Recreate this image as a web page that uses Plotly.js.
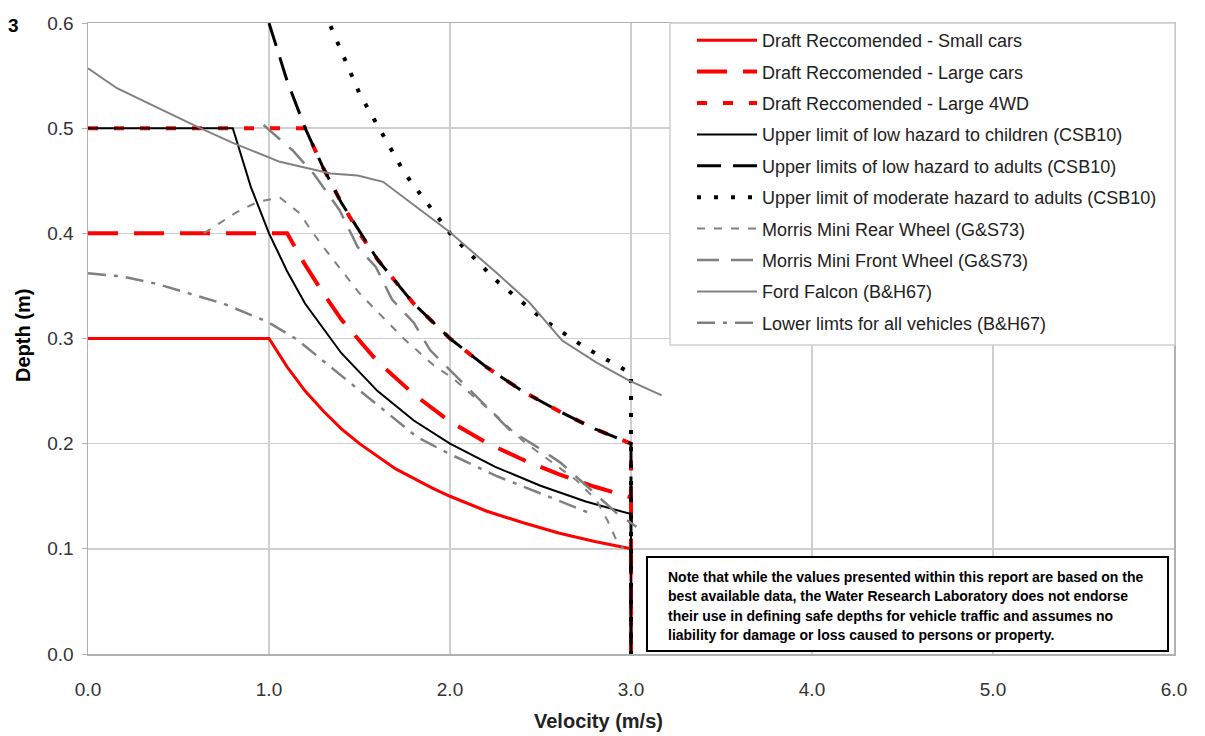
<!DOCTYPE html>
<html>
<head>
<meta charset="utf-8">
<script src="https://cdn.plot.ly/plotly-3.0.1.min.js"></script>
<style>html,body{margin:0;padding:0;background:#fff;}#chart{width:1205px;height:736px;}</style>
</head>
<body>
<div id="chart"></div>
<script>
// ---- Data ----
var smallCarsX = [0.0, 1.0, 1.1, 1.2, 1.3, 1.4, 1.5, 1.6, 1.7, 1.8, 1.9, 2.0, 2.2, 2.4, 2.6, 2.8, 3.0, 3.0];
var smallCarsY = [0.3, 0.3, 0.273, 0.25, 0.231, 0.214, 0.2, 0.188, 0.176, 0.167, 0.158, 0.15, 0.136, 0.125, 0.115, 0.107, 0.1, 0.0];

var largeCarsX = [0.0, 1.1, 1.2, 1.3, 1.4, 1.6, 1.8, 2.0, 2.2, 2.4, 2.6, 2.8, 3.0, 3.0];
var largeCarsY = [0.4, 0.4, 0.37, 0.343, 0.318, 0.278, 0.247, 0.221, 0.201, 0.185, 0.171, 0.159, 0.149, 0.0];

var large4wdX = [0.0, 1.2, 1.3, 1.4, 1.5, 1.6, 1.8, 2.0, 2.2, 2.4, 2.6, 2.8, 3.0, 3.0];
var large4wdY = [0.5, 0.5, 0.462, 0.429, 0.4, 0.375, 0.333, 0.3, 0.273, 0.25, 0.231, 0.214, 0.2, 0.0];

var childrenX = [0.0, 0.8, 0.9, 1.0, 1.1, 1.2, 1.4, 1.6, 1.8, 2.0, 2.25, 2.5, 2.75, 3.0, 3.0];
var childrenY = [0.5, 0.5, 0.444, 0.4, 0.364, 0.333, 0.286, 0.25, 0.222, 0.2, 0.178, 0.16, 0.145, 0.133, 0.0];

var adultsLowX = [1.0, 1.1, 1.2, 1.3, 1.4, 1.6, 1.8, 2.0, 2.2, 2.4, 2.6, 2.8, 3.0, 3.0];
var adultsLowY = [0.6, 0.545, 0.5, 0.462, 0.429, 0.375, 0.333, 0.3, 0.273, 0.25, 0.231, 0.214, 0.2, 0.0];

var adultsModX = [1.34, 1.5, 1.75, 2.0, 2.25, 2.5, 2.75, 3.0, 3.0];
var adultsModY = [0.597, 0.533, 0.457, 0.4, 0.356, 0.32, 0.291, 0.267, 0.0];

var miniRearX = [0.64, 0.73, 0.82, 0.94, 1.06, 1.17, 1.24, 1.3, 1.37, 1.5, 1.63, 1.75, 1.92, 2.01, 2.11, 2.26, 2.4, 2.55, 2.7, 2.81, 2.87, 2.92, 2.96];
var miniRearY = [0.40, 0.41, 0.42, 0.43, 0.434, 0.419, 0.401, 0.387, 0.372, 0.343, 0.32, 0.299, 0.273, 0.263, 0.248, 0.226, 0.203, 0.184, 0.165, 0.146, 0.127, 0.108, 0.1];

var miniFrontX = [0.97, 1.13, 1.25, 1.39, 1.49, 1.59, 1.68, 1.8, 1.89, 2.04, 2.18, 2.33, 2.48, 2.61, 2.76, 2.92, 3.03];
var miniFrontY = [0.503, 0.479, 0.456, 0.422, 0.387, 0.368, 0.337, 0.315, 0.289, 0.263, 0.239, 0.213, 0.197, 0.182, 0.159, 0.134, 0.121];

var falconX = [0.0, 0.16, 0.415, 0.62, 0.8, 1.06, 1.34, 1.49, 1.63, 2.0, 2.26, 2.44, 2.62, 2.81, 2.99, 3.17];
var falconY = [0.557, 0.538, 0.517, 0.5, 0.486, 0.468, 0.457, 0.455, 0.449, 0.401, 0.362, 0.334, 0.298, 0.277, 0.26, 0.246];

var lowerX = [0.0, 0.19, 0.38, 0.56, 0.75, 0.99, 1.155, 1.34, 1.56, 1.82, 2.0, 2.26, 2.54, 2.77];
var lowerY = [0.362, 0.359, 0.352, 0.343, 0.333, 0.316, 0.299, 0.273, 0.242, 0.206, 0.19, 0.169, 0.15, 0.134];

var xTickVals = [0, 1, 2, 3, 4, 5, 6];
var xTickText = ["0.0", "1.0", "2.0", "3.0", "4.0", "5.0", "6.0"];
var yTickVals = [0, 0.1, 0.2, 0.3, 0.4, 0.5, 0.6];
var yTickText = ["0.0", "0.1", "0.2", "0.3", "0.4", "0.5", "0.6"];

var xTitle = "Velocity (m/s)";
var yTitle = "Depth (m)";

var noteLines = [
  "Note that while the values presented within this report are based on the",
  "best available data, the Water Research Laboratory does not endorse",
  "their use in defining safe depths for vehicle traffic and assumes no",
  "liability for damage or loss caused to persons or property."
];

// ---- Traces ----
var GRAY = "#808080";
function tr(name, x, y, color, width, dash, grp) {
  return {type: "scatter", mode: "lines", name: name, x: x, y: y,
    line: {color: color, width: width, dash: dash}, legendgroup: grp, hoverinfo: "skip"};
}
var traces = [
  tr("Draft Reccomended - Small cars", smallCarsX, smallCarsY, "#ff0000", 3, "solid", "g1"),
  tr("Draft Reccomended - Large cars", largeCarsX, largeCarsY, "#ff0000", 4, "30px,16px", "g2"),
  tr("Draft Reccomended - Large 4WD", large4wdX, large4wdY, "#ff0000", 4, "10px,16px", "g3"),
  tr("Upper limit of low hazard to children (CSB10)", childrenX, childrenY, "#000000", 2, "solid", "g4"),
  tr("Upper limits of low hazard to adults (CSB10)", adultsLowX, adultsLowY, "#000000", 3, "24px,12px", "g5"),
  tr("Upper limit of moderate hazard to adults (CSB10)", adultsModX, adultsModY, "#000000", 4, "4px,13px", "g6"),
  tr("Morris Mini Rear Wheel (G&S73)", miniRearX, miniRearY, GRAY, 2, "8px,9px", "g7"),
  tr("Morris Mini Front Wheel (G&S73)", miniFrontX, miniFrontY, GRAY, 2.5, "22px,12px", "g8"),
  tr("Ford Falcon (B&H67)", falconX, falconY, GRAY, 2, "solid", "g9"),
  tr("Lower limts for all vehicles (B&H67)", lowerX, lowerY, GRAY, 2.5, "18px,8px,4px,8px", "g10")
];

// ---- Layout ----
var L = 88, R = 1174, T = 23, B = 654;
function px(xp) { return (xp - L) / (R - L); }
function py(yp) { return (B - yp) / (B - T); }

var FONT = "Liberation Sans, Arial, sans-serif";
var annotations = [];
var noteY = [577, 596, 616, 635];
for (var i = 0; i < noteLines.length; i++) {
  annotations.push({xref: "paper", yref: "paper", x: px(666), y: py(noteY[i]),
    xanchor: "left", yanchor: "middle", showarrow: false, text: "<b>" + noteLines[i] + "</b>",
    font: {family: FONT, size: 14, color: "#000"}});
}
annotations.push({xref: "paper", yref: "paper", x: px(6), y: py(25), xanchor: "left", yanchor: "middle",
  showarrow: false, text: "<b>3</b>", font: {family: FONT, size: 19, color: "#000"}});
annotations.push({xref: "paper", yref: "paper", x: px(598), y: py(721), xanchor: "center", yanchor: "middle",
  showarrow: false, text: "<b>" + xTitle + "</b>", font: {family: FONT, size: 20, color: "#222"}});
annotations.push({xref: "paper", yref: "paper", x: px(23), y: py(336), xanchor: "center", yanchor: "middle",
  textangle: -90, showarrow: false, text: "<b>" + yTitle + "</b>", font: {family: FONT, size: 20, color: "#000"}});

var layout = {
  width: 1205, height: 736,
  margin: {l: L, r: 1205 - R, t: T, b: 736 - B},
  paper_bgcolor: "#fff", plot_bgcolor: "#fff",
  font: {family: FONT, color: "#333"},
  showlegend: true,
  xaxis: {range: [0, 6], tickvals: xTickVals, ticktext: xTickText, showgrid: true,
    gridcolor: "#cfcfcf", gridwidth: 1.5, showline: true, linecolor: "#b0b0b0", linewidth: 1.5, mirror: true,
    zeroline: false, ticks: "", ticklabelstandoff: 18, tickfont: {size: 19, color: "#333"}},
  yaxis: {range: [0, 0.6], tickvals: yTickVals, ticktext: yTickText, showgrid: true,
    gridcolor: "#cfcfcf", gridwidth: 1.5, showline: true, linecolor: "#b0b0b0", linewidth: 1.5, mirror: true,
    zeroline: false, ticks: "outside", ticklen: 5, tickcolor: "#b0b0b0", ticklabelstandoff: 4,
    tickfont: {size: 19, color: "#333"}},
  legend: {x: px(692), y: py(22), xanchor: "left", yanchor: "top", bgcolor: "rgba(0,0,0,0)",
    borderwidth: 0, itemwidth: 60, traceorder: "grouped", tracegroupgap: 5,
    font: {size: 18, color: "#222"}},
  shapes: [
    {type: "rect", xref: "paper", yref: "paper", x0: px(670), x1: px(1175), y0: py(345), y1: py(23),
      line: {color: "#d0d0d0", width: 1.5}, fillcolor: "#fff", layer: "above"},
    {type: "rect", xref: "paper", yref: "paper", x0: px(647), x1: px(1168), y0: py(651), y1: py(557),
      line: {color: "#000", width: 2}, fillcolor: "#fff", layer: "above"}
  ],
  annotations: annotations
};

Plotly.newPlot("chart", traces, layout, {displayModeBar: false, staticPlot: true});
</script>
</body>
</html>
